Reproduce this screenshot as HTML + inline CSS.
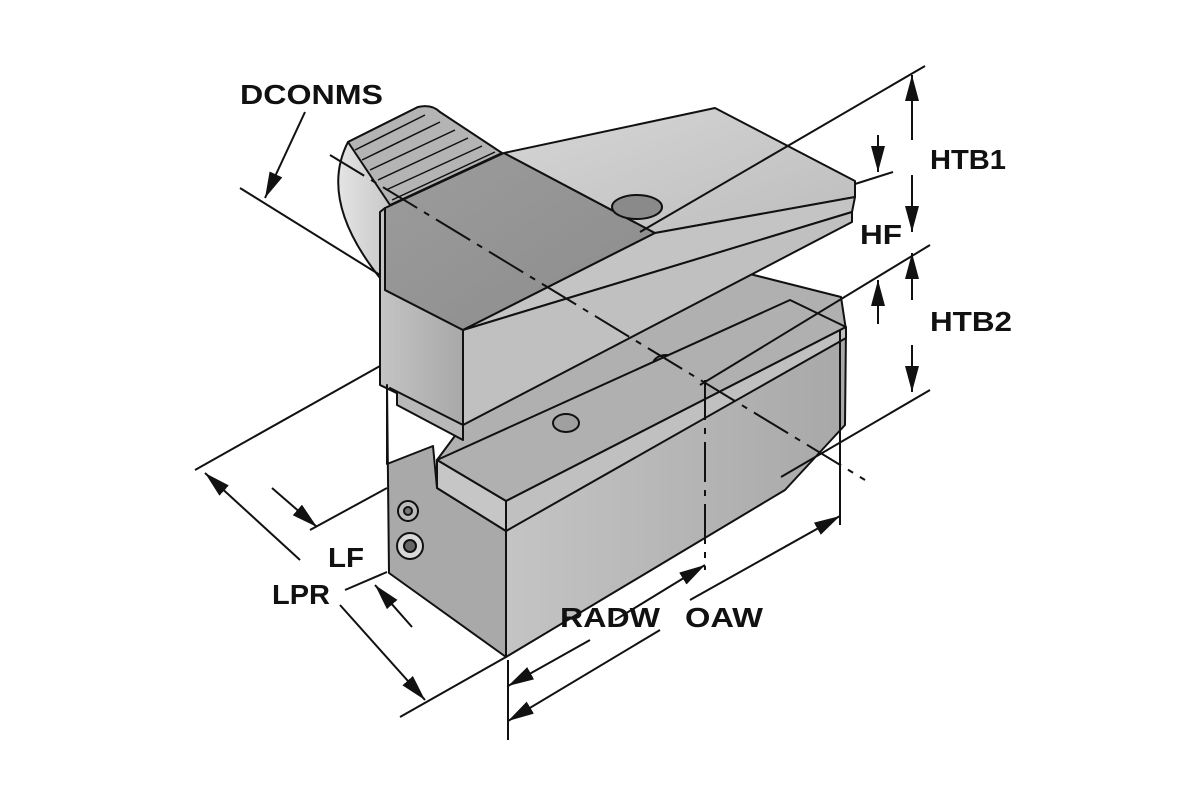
<!DOCTYPE html>
<html><head><meta charset="utf-8"><style>
html,body{margin:0;padding:0;background:#fff;width:1200px;height:800px;overflow:hidden}
text{font-family:"Liberation Sans",Arial,sans-serif;font-weight:bold;font-size:28px;fill:#111}
</style></head><body>
<svg width="1200" height="800" viewBox="0 0 1200 800" xmlns="http://www.w3.org/2000/svg">
<defs>
<linearGradient id="cyl" x1="0" y1="0" x2="1" y2="0"><stop offset="0" stop-color="#e4e4e4"/><stop offset="0.5" stop-color="#b8b8b8"/><stop offset="1" stop-color="#8a8a8a"/></linearGradient>
<linearGradient id="lite" x1="0" y1="0" x2="1" y2="1"><stop offset="0" stop-color="#d6d6d6"/><stop offset="1" stop-color="#bdbdbd"/></linearGradient>
<linearGradient id="dark" x1="0" y1="0" x2="1" y2="1"><stop offset="0" stop-color="#9c9c9c"/><stop offset="1" stop-color="#8c8c8c"/></linearGradient>
<linearGradient id="side" x1="0" y1="0" x2="1" y2="0"><stop offset="0" stop-color="#c4c4c4"/><stop offset="1" stop-color="#a8a8a8"/></linearGradient>
<marker id="ah" markerWidth="26" markerHeight="14" refX="26" refY="7" orient="auto" markerUnits="userSpaceOnUse" viewBox="0 0 26 14"><path d="M0,0 L26,7 L0,14 z" fill="#111"/></marker>
</defs>
<g stroke="#111" stroke-width="2" stroke-linejoin="round">
<path d="M348,142 Q318,200 380,278 L390,210 L502,153 L418,107 Z" fill="url(#cyl)"/>
<path d="M348,142 L418,107 Q432,104 440,112 L502,153 L390,205 Z" fill="#b4b4b4"/>
<g stroke-width="1.5" fill="none">
<path d="M355,150 L425,115"/><path d="M362,160 L440,122"/><path d="M370,170 L455,130"/><path d="M378,180 L468,138"/><path d="M386,190 L482,146"/><path d="M392,200 L495,152"/>
</g>
<path d="M463,425 L718,266 L841,297 L846,330 L506,501 L437,460 Z" fill="#b0b0b0"/>
<path d="M380,212 L385,208 L385,290 L463,330 L463,425 L380,385 Z" fill="url(#side)"/>
<path d="M385,208 L504,153 L655,233 L463,330 L385,290 Z" fill="url(#dark)"/>
<path d="M504,153 L715,108 L855,181 L855,197 L655,233 Z" fill="url(#lite)"/>
<path d="M655,233 L855,197 L852,212 L463,330 Z" fill="#c4c4c4"/>
<path d="M463,330 L852,212 L852,222 L463,425 Z" fill="#c0c0c0"/>
<ellipse cx="637" cy="207" rx="25" ry="12" fill="#8a8a8a"/>
<ellipse cx="666" cy="364" rx="13" ry="9" fill="#a0a0a0"/>
<path d="M387,385 L387,464 L433,446 L437,488 L506,531 L506,657 L389,573 Z" fill="#a9a9a9"/>
<path d="M390,388 L397,392 L397,405 L463,440 L463,425 Z" fill="#b8b8b8"/>
<path d="M506,531 L846,329 L845,425 L785,490 L506,657 Z" fill="url(#side)"/>
<path d="M437,460 L790,300 L846,327 L506,501 Z" fill="#b0b0b0"/>
<path d="M437,460 L506,501 L506,531 L437,488 Z" fill="#c6c6c6"/>
<path d="M506,501 L846,327 L846,338 L506,531 Z" fill="#c0c0c0"/>
<ellipse cx="566" cy="423" rx="13" ry="9" fill="#a0a0a0"/>
<circle cx="408" cy="511" r="10" fill="#bbb"/><circle cx="408" cy="511" r="4" fill="#777"/>
<circle cx="410" cy="546" r="13" fill="#d8d8d8"/><circle cx="410" cy="546" r="6" fill="#666"/>
</g>
<g stroke="#111" stroke-width="2" fill="none">
<path d="M330,155 L865,480" stroke-dasharray="40,8,6,8"/>
<path d="M705,380 L705,570" stroke-dasharray="40,8,6,8"/>
<path d="M240,188 L380,275"/>
<path d="M640,232 L925,66"/>
<path d="M855,184 L893,172"/>
<path d="M700,385 L930,245"/>
<path d="M781,477 L930,390"/>
<path d="M195,470 L380,366"/>
<path d="M310,530 L387,488"/>
<path d="M345,590 L387,572"/>
<path d="M400,717 L506,657"/>
<path d="M508,660 L508,740"/>
<path d="M840,330 L840,525"/>
<path d="M305,112 L265,198" marker-end="url(#ah)"/>
<path d="M912,140 L912,75" marker-end="url(#ah)"/>
<path d="M912,175 L912,232" marker-end="url(#ah)"/>
<path d="M912,300 L912,253" marker-end="url(#ah)"/>
<path d="M912,345 L912,392" marker-end="url(#ah)"/>
<path d="M878,135 L878,172" marker-end="url(#ah)"/>
<path d="M878,324 L878,280" marker-end="url(#ah)"/>
<path d="M300,560 L205,473" marker-end="url(#ah)"/>
<path d="M340,605 L425,700" marker-end="url(#ah)"/>
<path d="M272,488 L317,527" marker-end="url(#ah)"/>
<path d="M412,627 L375,585" marker-end="url(#ah)"/>
<path d="M590,640 L508,686" marker-end="url(#ah)"/>
<path d="M615,620 L705,565" marker-end="url(#ah)"/>
<path d="M660,630 L508,721" marker-end="url(#ah)"/>
<path d="M690,600 L840,516" marker-end="url(#ah)"/>
</g>
<text x="240" y="104" textLength="143" lengthAdjust="spacingAndGlyphs">DCONMS</text>
<text x="930" y="169" textLength="76" lengthAdjust="spacingAndGlyphs">HTB1</text>
<text x="860" y="244" textLength="42" lengthAdjust="spacingAndGlyphs">HF</text>
<text x="930" y="331" textLength="82" lengthAdjust="spacingAndGlyphs">HTB2</text>
<text x="328" y="567" textLength="36" lengthAdjust="spacingAndGlyphs">LF</text>
<text x="272" y="604" textLength="58" lengthAdjust="spacingAndGlyphs">LPR</text>
<text x="560" y="627" textLength="100" lengthAdjust="spacingAndGlyphs">RADW</text>
<text x="685" y="627" textLength="78" lengthAdjust="spacingAndGlyphs">OAW</text>
</svg>
</body></html>
